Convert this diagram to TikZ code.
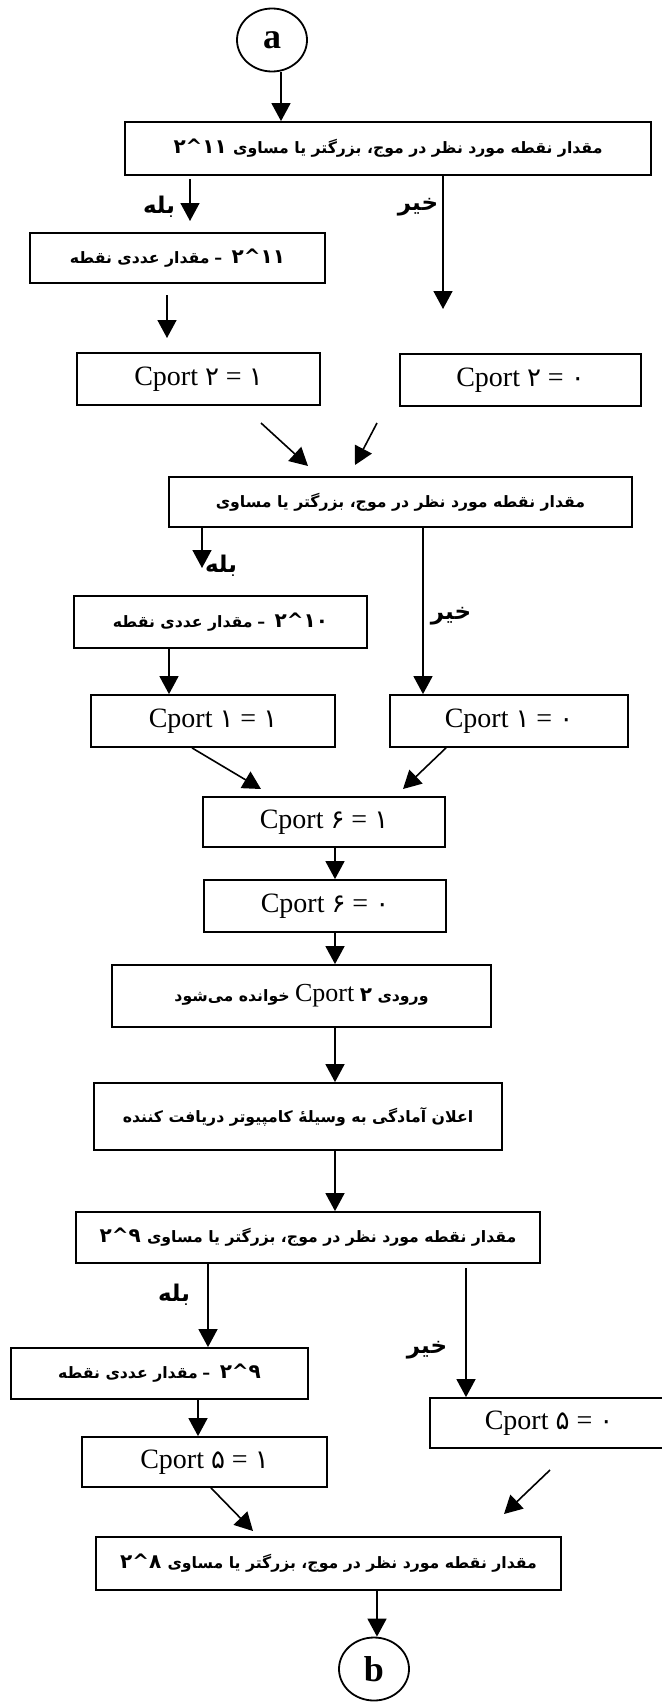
\documentclass[tikz,border=0pt]{standalone}
\usepackage{fontspec}
\setmainfont{Liberation Serif}
\newfontfamily\arabicfont[Script=Arabic]{DejaVu Sans}
\TeXXeTstate=1
\usetikzlibrary{arrows.meta,shapes.geometric}
\newcommand\expo[2]{\hbox{\fontsize{20}{22}\selectfont#1\kern0pt\textasciicircum\kern0pt#2}}
\newcommand\fa[1]{{\arabicfont\beginR #1\endR}}
\newcommand\pdig[1]{{\arabicfont\fontsize{26}{28}\selectfont #1}}
\newcommand\cport[2]{Cport \pdig{#1} = \pdig{#2}}
\begin{document}
\begin{tikzpicture}[x=1pt,y=-1pt,
  box/.style={draw, line width=1.8pt, rectangle, inner sep=0pt},
  fatext/.style={font=\arabicfont\bfseries\fontsize{15.7}{20}\selectfont},
  cptext/.style={font=\fontsize{28}{30}\selectfont},
  arr/.style={line width=1.6pt, -{Triangle[width=19pt,length=18pt]}},
  lab/.style={font=\arabicfont\bfseries\fontsize{23}{26}\selectfont, inner sep=0pt},
  term/.style={draw, ellipse, line width=1.8pt, minimum width=70pt, minimum height=63pt, font=\bfseries\fontsize{36}{38}\selectfont, inner sep=0pt}]
\useasboundingbox (0,0) rectangle (661,1702);
\fill[white] (0,0) rectangle (661,1702);

% terminals
\node[term] (a) at (272,40) {a};
\node[term] (bb) at (374,1669) {b};

% boxes
\node[box, fatext, minimum width=526pt, minimum height=53pt] (b1) at (388,148.5)
  {\expo{۲}{۱۱}\hspace{0.4em}\fa{مقدار نقطه مورد نظر در موج، بزرگتر یا مساوی}};
\node[box, fatext, minimum width=295pt, minimum height=50pt] (b2) at (177.5,258)
  {\fa{مقدار عددی نقطه}\hspace{0.3em}–\hspace{0.6em}\expo{۲}{۱۱}};
\node[box, cptext, minimum width=243pt, minimum height=52pt] (b3) at (198.5,379) {\cport{۲}{۱}};
\node[box, cptext, minimum width=241pt, minimum height=52pt] (b4) at (520.5,380) {\cport{۲}{۰}};
\node[box, fatext, minimum width=463pt, minimum height=50pt] (b5) at (400.5,502)
  {\fa{مقدار نقطه مورد نظر در موج، بزرگتر یا مساوی}};
\node[box, fatext, minimum width=293pt, minimum height=52pt] (b6) at (220.5,622)
  {\fa{مقدار عددی نقطه}\hspace{0.3em}–\hspace{0.6em}\expo{۲}{۱۰}};
\node[box, cptext, minimum width=244pt, minimum height=52pt] (b7) at (213,721) {\cport{۱}{۱}};
\node[box, cptext, minimum width=238pt, minimum height=52pt] (b8) at (509,721) {\cport{۱}{۰}};
\node[box, cptext, minimum width=242pt, minimum height=50pt] (b9) at (324,822) {\cport{۶}{۱}};
\node[box, cptext, minimum width=242pt, minimum height=52pt] (b10) at (325,906) {\cport{۶}{۰}};
\node[box, fatext, minimum width=379pt, minimum height=62pt] (b11) at (301.5,996)
  {\fa{ورودی {\fontsize{20}{22}\selectfont۲} {\fontspec{Liberation Serif}\mdseries\fontsize{26}{28}\selectfont Cport} خوانده می‌شود}};
\node[box, fatext, minimum width=408pt, minimum height=67pt] (b12) at (298,1116.5)
  {\fa{اعلان آمادگی به وسیلهٔ کامپیوتر دریافت کننده}};
\node[box, fatext, minimum width=464pt, minimum height=51pt] (b13) at (308,1237.5)
  {\expo{۲}{۹}\hspace{0.4em}\fa{مقدار نقطه مورد نظر در موج، بزرگتر یا مساوی}};
\node[box, fatext, minimum width=297pt, minimum height=51pt] (b14) at (159.5,1373.5)
  {\fa{مقدار عددی نقطه}\hspace{0.3em}–\hspace{0.6em}\expo{۲}{۹}};
\node[box, cptext, minimum width=245pt, minimum height=50pt] (b15) at (204.5,1462) {\cport{۵}{۱}};
\node[box, cptext, minimum width=238pt, minimum height=50pt] (b16) at (549,1423) {\cport{۵}{۰}};
\node[box, fatext, minimum width=465pt, minimum height=53pt] (b17) at (328.5,1563.5)
  {\expo{۲}{۸}\hspace{0.4em}\fa{مقدار نقطه مورد نظر در موج، بزرگتر یا مساوی}};

% labels
\node[lab] (l1) at (159,207) {\fa{بله}};
\node[lab] (l2) at (418,207) {\fa{خیر}};
\node[lab] (l3) at (221,566) {\fa{بله}};
\node[lab] (l4) at (451,616) {\fa{خیر}};
\node[lab] (l5) at (174,1295) {\fa{بله}};
\node[lab] (l6) at (427,1350) {\fa{خیر}};

% connector coordinates
\coordinate (xa) at (281,0);
\coordinate (y1a) at (190,179);
\coordinate (y1b) at (190,221);
\coordinate (n1b) at (443,309);
\coordinate (d0a) at (167,295);
\coordinate (d0b) at (167,338);
\coordinate (d1a) at (261,423);
\coordinate (d1b) at (308,466);
\coordinate (d2a) at (377,423);
\coordinate (d2b) at (355,465);
\coordinate (y2b) at (202,568);
\coordinate (xn2) at (423,0);
\coordinate (x67) at (169,0);
\coordinate (x3a) at (192,0);
\coordinate (d3b) at (261,789);
\coordinate (x4a) at (446,0);
\coordinate (d4b) at (403,789);
\coordinate (xm) at (335,0);
\coordinate (xy3) at (208,0);
\coordinate (n3a) at (466,1268);
\coordinate (x1415) at (198,0);
\coordinate (x5a) at (211,0);
\coordinate (d5b) at (253,1531);
\coordinate (d6a) at (550,1470);
\coordinate (d6b) at (504,1514);
\coordinate (xb) at (377,0);

% connectors
\draw[arr] (a.south -| xa) -- (b1.north -| xa);
\draw[arr] (y1a) -- (y1b);
\draw[arr] (b1.south -| n1b) -- (n1b);
\draw[arr] (d0a) -- (d0b);
\draw[arr] (d1a) -- (d1b);
\draw[arr] (d2a) -- (d2b);
\draw[arr] (b5.south -| y2b) -- (y2b);
\draw[arr] (b5.south -| xn2) -- (b8.north -| xn2);
\draw[arr] (b6.south -| x67) -- (b7.north -| x67);
\draw[arr] (b7.south -| x3a) -- (d3b);
\draw[arr] (b8.south -| x4a) -- (d4b);
\draw[arr] (b9.south -| xm) -- (b10.north -| xm);
\draw[arr] (b10.south -| xm) -- (b11.north -| xm);
\draw[arr] (b11.south -| xm) -- (b12.north -| xm);
\draw[arr] (b12.south -| xm) -- (b13.north -| xm);
\draw[arr] (b13.south -| xy3) -- (b14.north -| xy3);
\draw[arr] (n3a) -- (b16.north -| n3a);
\draw[arr] (b14.south -| x1415) -- (b15.north -| x1415);
\draw[arr] (b15.south -| x5a) -- (d5b);
\draw[arr] (d6a) -- (d6b);
\draw[arr] (b17.south -| xb) -- (bb.north -| xb);
\end{tikzpicture}
\end{document}
